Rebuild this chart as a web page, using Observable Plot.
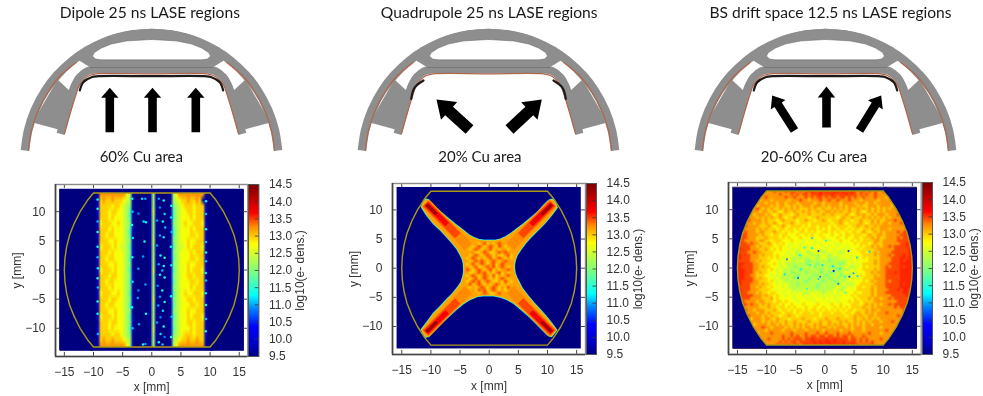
<!DOCTYPE html>
<html><head><meta charset="utf-8">
<style>html,body{margin:0;padding:0;background:#fff;width:983px;height:396px;overflow:hidden;position:relative}</style>
<script src="https://cdn.jsdelivr.net/npm/d3@7"></script>
<script src="https://cdn.jsdelivr.net/npm/@observablehq/plot@0.6"></script>
</head><body>
<script>
// ---------- shared value data ----------
const jetLevels = [9.5,9.9,10.4,10.9,11.3,12,12.8,13.3,13.7,14.5];
const jetColors = ["#00007f","#0000c8","#0000ff","#007fff","#00ffff","#7fff7f","#ffff00","#ff8c00","#ff0000","#7f0000"];
const axisTicks = [-15,-10,-5,0,5,10,15];
const barTicks = [9.5,10,10.5,11,11.5,12,12.5,13,13.5,14,14.5];
const codes = "0123456789abcdefghijk"; // 0 = 9.5 ... k = 14.5, 0.25 per step

const titles = ["Dipole 25 ns LASE regions","Quadrupole 25 ns LASE regions","BS drift space 12.5 ns LASE regions"];
const cuLabels = ["60% Cu area","20% Cu area","20-60% Cu area"];

// half chamber outline in mm (x,y), mirrored for the left side
const chamberHalf = [[10,13.2],[11,12],[12.3,10],[13.3,8],[14.1,6],[14.6,4],[14.9,2],[15,0],[14.9,-2],[14.6,-4],[14.1,-6],[13.3,-8],[12.3,-10],[11,-12],[10,-13.2]];

// Dipole: density by x (0.5 mm columns from -9.5 to 9.5) and y (1 mm rows)
const dipoleRows = [
"1fffffffffdb100000" + "1b1" + "00001bdfffffffff1",
"1efeefeeedcb100000" + "1b1" + "00001bcdeefeefe1",
"2eeeedeedcba100000" + "1b1" + "00001abcdeeedeee1",
"2eeedeeddcb9100000" + "1c1" + "000019bcddeedeee2",
"1eeededddcb9100000" + "1b1" + "000019bcdddedeee1",
"2deeeddedcba100000" + "1b1" + "00001abcdeddeeed2",
"1eeededddcb9200000" + "1b1" + "000029bcdddedeee1",
"2eedeedddcb9100000" + "1b1" + "000019bcdddeedee1",
"1eeeddeddcba100000" + "1c1" + "00001abcddeddeee2",
"2deeededccb9100000" + "1b1" + "000019bccdedeeed1",
"1eeededddcba200000" + "1b1" + "00002abcdddedeee1",
"2eedeedddcb9100000" + "1b1" + "000019bcdddeedee2",
"1eeeddeddcba100000" + "1b1" + "00001abcddeddeee1",
"2deeededdcb9100000" + "1c1" + "000019bcddedeeed2",
"1eeedeeddcba200000" + "1b1" + "00002abcddeedeee1",
"2eedeedddcb9100000" + "1b1" + "000019bcdddeedee1",
"1eeededddcba100000" + "1b1" + "00001abcdddedeee2",
"2deeeddedcb9100000" + "1b1" + "000019bcdeddeeed1",
"1eeedeeddcba200000" + "1c1" + "00002abcddeedeee2",
"2eedeedddcb9100000" + "1b1" + "000019bcdddeedee1",
"1eeeddeddcba100000" + "1b1" + "00001abcddeddeee1",
"2deeededdcb9100000" + "1b1" + "000019bcddedeeed2",
"1eeedeeddcba200000" + "1b1" + "00002abcddeedeee1",
"2eeededddcb9100000" + "1c1" + "000019bcdddedeee1",
"2eeeedeedcba100000" + "1b1" + "00001abcdeeedeee2",
"1efeefeeedcb100000" + "1b1" + "00001bcdeefeefee1",
"1fffffffffdb100000" + "1b1" + "00001bdfffffffff1"
];
const dipoleX = [-1.66,-1.1,-2.3,-1.4,-1,-1.25,-1.5,-2.3,-1.1,-2.3,-2.4,-1,-2.2,-1.5,-1.1,1.2,2.05,1.4,2.2,.9,1.9,2.3,1.4,2.05,.9,1.5,2.2,1.2,2.05,1.8,1.4,2.2,1,1.8,1.4,2.2,1.1,1.9,1.5,.9,2.05,1.5,2.2,1.2,1.85,-9.3,-9.3,-9.3,-9.3,-9.3,-9.3,-9.25,-9.3,-9.25,-9.3,-9.3,-9.25,9.3,9.3,9.3,9.3,9.3,9.3,9.25,9.3,9.25,9.3,9.3,9.25,-3.35,-3.3,-3.4,-3.25,-3.35,-3.3,-3.4,-3.3,3.35,3.3,3.4,3.25,3.35,3.3,3.4,3.3];
const dipoleY = [12.2,12.2,9.7,8.3,8.2,4.9,2.3,.2,-2.5,-3.5,-4.8,-7.5,-9.3,-12.8,-12.7,12.2,11.9,10.7,9.6,8.5,8.3,7.3,5.9,5.6,4.2,2.5,2.1,1,.7,-.1,-.8,-1.3,-2.7,-3.5,-4.6,-5.5,-6.1,-7,-8.1,-9,-9.7,-11,-11.5,-12.4,-12.8,12.1,10.5,8.3,6.5,4,2.2,.3,-1.4,-3,-5.4,-7.5,-11,11.8,9.6,7,4.8,3,1.5,-.5,-1.8,-4,-6,-8.4,-10.5,12.2,10,7.7,5.5,2.2,-2,-6.4,-10,11,9,6.5,4,.8,-4.5,-8,-11.5];
const dipoleV = [11.2,11,10.9,11.2,11.3,11.4,11,11,11,10.9,11,11.4,11,11.4,11,11,11.3,10.9,11.2,11,11.4,11.1,11,11.2,11,11.3,11.5,11,11.4,11.1,11.3,11.4,10.9,11.4,11,11.4,11,11.2,10.9,11,11.4,11.2,10.9,11.4,11.1,11.3,11.5,11.1,11.5,11.3,11.1,11.3,11.5,11.1,11.5,11.3,11.1,11.3,11.1,11.3,11.1,11.3,11.1,11.3,11.1,11.3,11.5,11.1,11.5,11.3,11.1,11.4,11.2,11.4,11.2,11.3,11.1,11.4,11.2,11.1,11.4,11.2,11.3,11.1,11.4];

// Quadrupole: outer edge of the density cross in mm, clockwise from the top
const crossEdge = [[0,4.75],[1,4.75],[1.9,4.95],[2.8,5.35],[3.6,5.85],[4.7,6.7],[5.9,7.6],[7,8.5],[8.2,9.5],[9.1,10.5],[9.9,11.35],[10.4,11.7],[10.9,11.8],[11.3,11.2],[11.65,10.4],[10.6,9],[9.4,7.6],[8.2,6.4],[7.1,5.3],[6.2,4.3],[5.4,3.2],[4.8,2.3],[4.45,1.4],[4.3,.6],[4.3,0],[4.4,-.8],[4.7,-1.6],[5.1,-2.4],[5.6,-3.4],[6.6,-4.7],[7.6,-5.9],[8.8,-7.2],[9.95,-8.5],[10.8,-9.6],[11.55,-10.6],[11,-11.3],[10.7,-11.7],[10.1,-11.5],[9.2,-10.6],[8.2,-9.6],[6.8,-8.2],[5.4,-7],[4.2,-6],[3.1,-5.35],[2,-4.95],[.8,-4.7],[-.6,-4.65],[-2,-4.8],[-3.4,-5.4],[-4.5,-6.1],[-5.6,-7],[-7,-8.3],[-8.3,-9.5],[-9.2,-10.4],[-10.1,-11.4],[-10.5,-11.7],[-10.9,-11.8],[-11.3,-11.2],[-11.6,-10.5],[-10.6,-9.2],[-9.6,-7.8],[-8.4,-6.6],[-7.3,-5.4],[-6.3,-4.4],[-5.4,-3.3],[-4.8,-2.4],[-4.5,-1.5],[-4.35,-.7],[-4.35,0],[-4.4,.8],[-4.6,1.6],[-5,2.4],[-5.5,3.3],[-6.3,4.3],[-7.3,5.4],[-8.4,6.6],[-9.6,7.7],[-10.7,9.1],[-11.6,10.5],[-11.3,11.2],[-10.9,11.8],[-10.4,11.7],[-10.1,11.35],[-9.2,10.4],[-8.2,9.5],[-7,8.5],[-5.8,7.5],[-4.6,6.6],[-3.5,5.7],[-2.7,5.25],[-1.8,4.9],[-.9,4.75]];
// arm ridges: [x1,y1,x2,y2] in mm
const armRidgeLow = [[3.6,3.7,10.9,11.2],[3.6,-3.7,10.9,-11.2],[-3.6,3.7,-10.9,11.2],[-3.6,-3.7,-10.9,-11.2]];
const armRidgeMid = [[5.4,5.6,10.9,11.1],[5.4,-5.6,10.9,-11.1],[-5.4,5.6,-10.9,11.1],[-5.4,-5.6,-10.9,-11.1]];
const armRidgeHot = [[7.2,7.5,10.8,11],[7.2,-7.5,10.8,-11],[-7.2,7.5,-10.8,11],[-7.2,-7.5,-10.8,-11]];
const armRidgeTop = [[9,9.2,10.7,10.9],[9,-9.2,10.7,-10.9],[-9,9.2,-10.7,10.9],[-9,-9.2,-10.7,-10.9]];
const crossFill = 13.2;
const crossEdgeLow = 11.1, crossEdgeMid = 12.1;
const ridgeLow = 13.3, ridgeMid = 13.5, ridgeHot = 13.75, ridgeTop = 14.3;
// Quadrupole centre: 0.5 mm cells from -5 to 5, "." where there is no cell
const crossCentreRows = [
"....................",
"......efgefefg......",
"....efgfefgfegfe....",
"...efgfeffgefeffe...",
"...ffeefgfeefgfgf...",
"..fefgfefgfefeefge..",
"..efgfefefgefgfefe..",
"..fefgfgfefgfefgf...",
"..efgefgfefgefgff...",
"..fefgeefgfgefgfe...",
"..gfefgfefgefeffg...",
"..feefgfgefefgefe...",
"..efgfefgfegefefg...",
"..fefgefgfefefgfe...",
"..efgfgefgfeefegfe..",
"...gefgfefefgfefe...",
"...efefgfefgfefeg...",
"....fegfgefgfefe....",
"......efgfeefg......",
"...................."
];

// Drift space: 0.5 mm cells, x from -15.8 to 15.8 and y from 13.9 to -13.9
const driftRows = [
"ffffffffffffffffgfgfgfggfgghghgghhghghhghgggfggfggfffgffffffffff",
"ffffffffffffffgfffgfggfgfgghgghghgghhghgghgfggfgfgffgfffffffffff",
"ffffffffffffffffgfffgfgfggfggghggghgggghgggfgfgffgfffffffffffgff",
"fffffffffffgffffffgffgfffgfgfggfgfggfggfgfgffgfffgfffefffffffff",
"fffffffffefffefffffefffgffefffgffgffgfffgfffefffffefffffffeffff",
"fffffffffffefffeffefffefffffeffefffffeffffefffeffefffffefffffff",
"ffffffffeffffefeffeefefefffefffefefffefefffefeefffeffffeffffffff",
"ffffffffgfefefeefefefefeeefefeefeefefefefeefefefefefefeffgffffff",
"gffffffffeffeefedefeefeefefeefeeffefefeefeefedefefefefffffffffg",
"gfgffffefffefedefeeedefeeefeeeefeefeeeefedefefeefefffefffgffffgg",
"ggffffffefefefeefedeefeeeedeefeeeeeedefeefeeefefefefefefffffgfgg",
"gggffgffffefeeedefeeeedeefeedeefedeeefeeedeefeeefefeefffgffffggg",
"gggffffeffefeefedeeefedeeedeeeeeeedeefedeeeefedefefeffefffgfgggg",
"gggfgffffeeefedeefedeeeededeedeeededeeeedeefeefeefefffffffffgggg",
"ggggffffefefeeedeedeedededeeedededeedeededeedeeefeefffefffffgggg",
"gggfgfffeffeeefeedededdeedededdeedededdedeedefedefefeffffgfggggg",
"hggggffffefeedeedeedddeddededdedddeddedeedeeedefeeffefffffgggggg",
"gggggfffeeefeeeedededddedddedddeddddeddeddeedeeefefeeffffgfggggh",
"hgggffffeffeedeeedddedddcdddcddddcdddedddededeeeeffefffffggggghg",
"gggggfgffeeefedededdcddcddddcdcddddcdcddddedeeedefeeffffffgghggg",
"hhggggffefeeeeddeddcdddcdcdcdddcdcddcddcddddedeefefeffgfgggghghh",
"gghgggfffeefedededddcdcddcddcdcdcddcddcdcddedeeeeeffffffggggghgh",
"hhgggffgffeeeedddddcdcbcdcbcddcbcdcdcbcdddddeedeefeffffgggggghhh",
"hghgggfffefeeededdcdcdcbcdcbcbcdcbcdcdcddcdddeeeefefffgfggghghgh",
"hhhgggfffeeedededcddcbcbcbcdcbcdcbcbcdcdcddcdedeeeeffffggghhghhh",
"hhggggffefeeedddcdcdcbcdcbabcbcbcabcbcbcdcdddddeefeffffggghghhhh",
"hhhhgggffeeeddedcdcbcbcbcabcbabcbcbcbabcdcdcdeeeefefffgggghhhhhh",
"hhhggggffefeedddccdbcabcbcbcabcbcbabcbcdcbcddedeeeeffgfggghghhhh",
"ihhhgggffeeededcdcbcbcbabcbcbcabcbcbabcbcdcddeeeefeffggggghhhhih",
"hhhhgggfefeedddcdcbcabcbcabcbcabcbabcbcdcdcdddeefefffggghghhhhih",
"ihhhggffeeeddcdcdbcbcbabcbcbabcbabcbcabcbcddedeeefeffggggghhhhih",
"hhhhgggfefeeddcdcbcbcabcbcabcbcbcabcbcbcdcdcdeeeeffffggggghhhhhh",
"hhhggggffeeededcdcbcbcbcbabcbcbabcbabcbcdcdddedefefffgfggghhhhhh",
"hhhgggfffefeeddcdcdcbcabcbcbcabcbcbcbcdcbcddeeeeeffffggggghghhhh",
"hhggggffefeededddcdcbcbcbcbcbabcbcbcdcbcdcdeedeefefffggggghhhhgh",
"hghgggfffeeeeddcddcdcbcbcdcbcbcbcbcdcbcddddeeeeefeffffggghghhghh",
"hhgggfffefeedeeddcddcdcdcbcdcdcbcdcdcddcddeddeeefefffgggggghhgh",
"gghggggfffefeededdcddcddcdcddcdcdcdcdcdddedeeeeefefffffggggghghg",
"hgggggffffeeefdedddddcdddcdcdddcdddcddddddedeeefeffeffgfgggggghg",
"ggggffffeffeeedeededddcdddddcddddcddcdddedeedeeeeffffffffggggggg",
"gggggfgffefefeeededdedddeddddeddddeddedddeeedefefefeffgfggggggg",
"ggggfffffeeefeedeedededddeddeddedddedededeeeefeefeffffffgfggggg",
"gggfgffefffeeefedeededeededeededededededeedeeefeffeffffffffgggg",
"gggfffffeffefeeeedeeededeeedeedeeedeeedeedefeefefefffgfffffgggg",
"gggffgffffefefeedeefeedeeeeeeedeeeeeeeedeefefeeffefffffffgfgggg",
"ggffffefffeffeefeeedeeeefeeedeeefeeefeeeeefeefefefefffffffffgfg",
"gfffgfffffefefefeefeefeeeefeeefeefeeefefeefefefefffefffgffffffg",
"gffffffeffffeffefefeefefefeefefeefefefeefefefeffeffffffffffgffg",
"ffffffffffgffeffffefefefeffefefffefefffefefffefffffefffffffffff",
"fffffffffffefffffefffefffefffffefffffefffefffefffffffgfffffffff",
"ffffffffeffffgffffffgffffgfffgffgfffgfffgffffffgfffeffffffffff",
"fffffffffffffffffgffgfgffgfggfggfggfgfggfgfffgffffffffffffffff",
"ffffffffffffgffffgfgfgggfgghgggghgghggggfggfgfgffffgffffffffff",
"ffffffffffffffffgfgfggfggggghghghhghgghggggfgfgfgfffffffffffffff",
"fffffffffffffffgfgfgfggfghgghghhghhghghgghggfgfggfffffffffffffff",
"ffffffffffffffffffgfgfggfggghgghghhgghgggfgfggfgffffffffffffffff"
];
const driftPeak = 13.6;
const driftX = [-2.2,.17,-3.5,-2.2,-1.1,-4.3,4.05,5.5,7.65,-6.5,-2.5,-.4,1.4,1.5,2.6,-4.1,-6.9,-4.6,-.8,-1.1,3.5,4.2,4.9,5.6,2.3,-3.1,3.5];
const driftY = [5.1,4.7,3.5,3.4,2.9,2.2,2.9,1.8,2.8,1.5,.5,.5,.3,-.5,-.1,-.2,-1.1,-1.7,-1.5,-1.9,-1.5,-1.5,-.9,-1.4,-2.7,-3.6,-4.2];
const driftV = [11.2,11.3,11.4,11.4,10.6,11.4,10.6,11.2,11.2,10.9,11.4,11.2,11.2,10.5,11.4,11.4,11.2,10.9,10.9,11.2,11.4,10.7,11,11.2,10.9,11.4,11.6];

// Beam screen drawing, in drawing units from its centre line
const ringHalf = [[-126.5,150],[-123.4,130],[-116.8,110],[-106.2,90],[-94.7,75],[-78.9,60],[-64.3,50],[-48.2,42],[-33.5,37],[-19.4,34],[0,32.5]];
const ringCopperHalf = [[-123.1,150],[-120,130],[-113.2,110],[-102.5,90],[-90.9,75],[-75.3,62]];
const bridgeHalf = [[0,28.3],[-20,29.8],[-40,34.6],[-68,47.3],[-74,59],[-61,67],[0,67]];
const windowHalf = [[0,39],[-25,40.5],[-40,43.5],[-50,47.5],[-57,52],[-59,55.5],[-56,58.5],[-50,59.3],[0,59.3]];
const screenHalf = [[-91,133.3],[-85,112],[-79.5,93],[-76.7,85],[-72,77],[-64,70.7],[-55.7,69],[0,69]];
const screenCopperHalf = [[-87,133.3],[-81,112],[-75.8,95],[-72.7,86],[-68,79.5],[-62,75],[-55,73.3],[0,73.3]];
const blackHalfFull = [[-71.7,90],[-68.3,81.7],[-60,76.7],[-53.3,75.7],[0,75.7]];
const blackHalfCorner = [[-77.3,98.3],[-74,87.3],[-65,80]];
const sideBlockHalf = [[-94,79],[-119,122],[-93,129],[-80,92]];
// arrows: tail x, tail y, tip x, tip y
const arrowsDipole = [[-41.7,131.7,-41.7,87.3],[1,131.7,1,87.3],[44.3,131.7,44.3,87.3]];
const arrowsQuad = [[-19,129,-52,99],[21,129,53.3,99]];
const arrowsDrift = [[-31,130,-53.3,95],[1,127,1,86],[34,130,55.7,95]];

// ---------- panel layout in page pixels (frame left, right, top, bottom, x zero, y zero) ----------
const frames = [[55,247.3,184,356,151.3,269.5],[392,585,183.3,354.3,488.7,268],[728.3,921,182,354,824.7,267.5]];
const bars = [[248.3,258.7],[585.7,595.7],[922,932]];
const drawingCentres = [150.7,488.3,825];
const titleCentres = [149,489,830];
const cuCentres = [140.5,479.7,813.5];
const arrowWidths = [[4.3,8.7,10],[5.8,12,17],[4.3,8.7,11]];

const TEXT = "#333";
const OLIVE = "#ad9a12";
const NAVY = 9.5;
const K = 5.83;

const colorOpt = {type:"linear",domain:jetLevels,range:jetColors,clamp:true,interpolate:"rgb"};
const decode = (rows,cols,peak=14.5) => rows.flatMap(r => Array.from(r.padEnd(cols,r[r.length-1]).slice(0,cols), c => c === "." ? NaN : Math.min(peak,9.5 + codes.indexOf(c)*0.25)));
const mirrorX = half => half.concat(half.slice(0,-1).reverse().map(([x,y])=>[-x,y]));
const poly = (pts,id,v) => pts.map(([x,y])=>({x,y,id,v}));
const chamber = chamberHalf.map(([x,y])=>({x,y})).concat(chamberHalf.map(([x,y])=>({x:-x,y})).reverse(),[{x:chamberHalf[0][0],y:chamberHalf[0][1]}]);
const masks = [
  ...poly(chamberHalf.concat([[10,-13.85],[15.8,-13.85],[15.8,13.85],[10,13.85]]),"r",NAVY),
  ...poly(chamberHalf.map(([x,y])=>[-x,y]).concat([[-10,-13.85],[-15.8,-13.85],[-15.8,13.85],[-10,13.85]]),"l",NAVY),
  ...poly([[-10.5,13.2],[10.5,13.2],[10.5,13.85],[-10.5,13.85]],"t",NAVY),
  ...poly([[-10.5,-13.2],[10.5,-13.2],[10.5,-13.85],[-10.5,-13.85]],"b",NAVY)
];
const polyMark = (data,channels={}) => Plot.line(data,{x:"x",y:"y",z:"id",fill:"v",stroke:"none",...channels});
const specks = (xs,ys,vs,r=1.25) => Plot.dot(xs.map((x,i)=>({x,y:ys[i],v:vs[i]})),{x:"x",y:"y",fill:"v",r,stroke:"none"});
const ridge = (arr,v,w) => Plot.link(arr,{x1:d=>d[0],y1:d=>d[1],x2:d=>d[2],y2:d=>d[3],stroke:()=>v,strokeWidth:w,strokeLinecap:"butt"});
const cross = crossEdge.concat([crossEdge[0]]);

const panelLayers = [
  [ Plot.raster(decode(dipoleRows,38),{width:38,height:27,x1:-9.5,x2:9.5,y1:13.5,y2:-13.5,fill:d=>d}),
    specks(dipoleX,dipoleY,dipoleV) ],
  [ polyMark(poly(cross,"c",crossEdgeLow),{stroke:()=>crossEdgeLow,strokeWidth:1.8}),
    polyMark(poly(cross,"c",crossEdgeMid),{stroke:()=>crossEdgeMid,strokeWidth:0.9}),
    polyMark(poly(cross,"c",crossFill),{stroke:"none"}),
    ridge(armRidgeLow,ridgeLow,10), ridge(armRidgeMid,ridgeMid,7.5), ridge(armRidgeHot,ridgeHot,5), ridge(armRidgeTop,ridgeTop,3),
    Plot.raster(decode(crossCentreRows,20),{width:20,height:20,x1:-5,x2:5,y1:5,y2:-5,fill:d=>d}) ],
  [ Plot.raster(decode(driftRows,64,driftPeak),{width:64,height:56,x1:-15.8,x2:15.8,y1:13.9,y2:-13.9,fill:d=>d}),
    specks(driftX,driftY,driftV,1.05) ]
];

const baseStyle = {position:"absolute",background:"transparent",overflow:"visible",fontFamily:"'Liberation Sans'",fontSize:"12px"};

function heatPanel(i){
  const [fl,fr,ft,fb,x0,y0] = frames[i];
  const ml = 55, mb = 40, mt = 4, mr = 2;
  return Plot.plot({
    width: fr-fl+ml+mr, height: fb-ft+mt+mb, marginLeft: ml, marginRight: mr, marginTop: mt, marginBottom: mb,
    style: {...baseStyle,left:(fl-ml)+"px",top:(ft-mt)+"px",filter:"blur(0.45px)"},
    x: {domain:[(fl-x0)/K,(fr-x0)/K]},
    y: {domain:[(y0-fb)/K,(y0-ft)/K]},
    color: colorOpt,
    marks: [
      Plot.rect([0],{x1:()=>-15.8,x2:()=>15.8,y1:()=>-13.85,y2:()=>13.85,fill:()=>NAVY}),
      ...panelLayers[i],
      ...(i===1 ? [] : [polyMark(masks)]),
      Plot.line(chamber,{x:"x",y:"y",stroke:OLIVE,strokeWidth:1.4}),
      Plot.ruleX(axisTicks,{y1:()=>(y0-fb)/K,y2:()=>(y0-fb)/K+0.7,stroke:"#444",strokeWidth:1}),
      Plot.ruleX(axisTicks,{y1:()=>(y0-ft)/K,y2:()=>(y0-ft)/K-0.7,stroke:"#444",strokeWidth:1}),
      Plot.ruleY(axisTicks.slice(1,-1),{x1:()=>(fl-x0)/K,x2:()=>(fl-x0)/K+0.7,stroke:"#444",strokeWidth:1}),
      Plot.ruleY(axisTicks.slice(1,-1),{x1:()=>(fr-x0)/K,x2:()=>(fr-x0)/K-0.7,stroke:"#444",strokeWidth:1}),
      Plot.frame({stroke:"#8a8a8a",strokeWidth:1.4}),
      Plot.ruleX([0],{x:()=>(fl-x0)/K,stroke:"#444",strokeWidth:1.6}),
      Plot.ruleY([0],{y:()=>(y0-fb)/K,stroke:"#444",strokeWidth:1.6}),
      Plot.axisX(axisTicks,{tickSize:0,tickPadding:11,fontSize:12,fill:TEXT,label:"x [mm]",labelAnchor:"center",labelArrow:"none",labelOffset:35}),
      Plot.axisY(axisTicks.slice(1,-1),{tickSize:0,tickPadding:10,fontSize:12,fill:TEXT,label:"y [mm]",labelAnchor:"center",labelArrow:"none",labelOffset:43})
    ]
  });
}

function colorBar(i){
  const [bl,br] = bars[i];
  const [,,ft,fb] = frames[i];
  const mr = 52, mt = 6, mb = 6, ml = 1;
  const levels = d3.range(100).map(k => 14.5 - k*0.05);
  return Plot.plot({
    width: br-bl+ml+mr, height: fb-ft+mt+mb, marginLeft: ml, marginRight: mr, marginTop: mt, marginBottom: mb,
    style: {...baseStyle,left:(bl-ml)+"px",top:(ft-mt)+"px",filter:"blur(0.45px)"},
    x: {domain:[0,1],axis:null},
    y: {domain:[9.5,14.5],axis:null},
    color: colorOpt,
    marks: [
      Plot.raster(levels,{width:1,height:100,x1:0,x2:1,y1:14.5,y2:9.5,fill:d=>d}),
      Plot.ruleY(barTicks,{x1:()=>.65,x2:()=>1,stroke:"#333",strokeWidth:.8}),
      Plot.frame({stroke:"#555",strokeWidth:1}),
      Plot.axisY(barTicks,{anchor:"right",tickSize:0,tickPadding:10,fontSize:12,fill:TEXT,tickFormat:d=>d.toFixed(1),label:"log10(e- dens.)",labelAnchor:"center",labelArrow:"none",labelOffset:45})
    ]
  });
}

const arrowPolygon = ([tx,ty,hx,hy],id,[sw,hw,hl]) => {
  const L = Math.hypot(hx-tx,hy-ty), ux=(hx-tx)/L, uy=(hy-ty)/L, nx=-uy, ny=ux;
  const bx=hx-ux*hl, by=hy-uy*hl;
  return [[tx+nx*sw,ty+ny*sw],[bx+nx*sw,by+ny*sw],[bx+nx*hw,by+ny*hw],[hx,hy],[bx-nx*hw,by-ny*hw],[bx-nx*sw,by-ny*sw],[tx-nx*sw,ty-ny*sw]].map(([x,y])=>({x,y,id}));
};
const linePts = pts => pts.map(([x,y])=>({x,y}));

function drawing(i){
  const GREY = "#8e8e8e", COPPER = "#b2664c", SEAM = "#6a6a6a";
  const arrows = [arrowsDipole,arrowsQuad,arrowsDrift][i].flatMap((a,k)=>arrowPolygon(a,k,arrowWidths[i]));
  const sideR = sideBlockHalf.map(([x,y])=>[-x,y]);
  const ringPts = linePts(mirrorX(ringHalf));
  const screenPts = linePts(mirrorX(screenHalf));
  const blackParts = i===1
    ? [blackHalfCorner, blackHalfCorner.map(([x,y])=>[-x,y])]
    : [mirrorX(blackHalfFull)];
  const cx = drawingCentres[i];
  return Plot.plot({
    width:330,height:175,margin:0,
    style:{...baseStyle,left:(cx-165)+"px",top:"0px",filter:"blur(0.35px)"},
    x:{domain:[-165,165],axis:null}, y:{domain:[175,0],axis:null},
    marks:[
      Plot.line(poly(sideBlockHalf,"a").concat(poly(sideR,"b")),{x:"x",y:"y",z:"id",fill:GREY,stroke:"none"}),
      Plot.line(ringPts,{x:"x",y:"y",stroke:GREY,strokeWidth:8.6,curve:"catmull-rom",strokeLinecap:"butt"}),
      Plot.line(linePts(ringCopperHalf),{x:"x",y:"y",stroke:COPPER,strokeWidth:1.2,curve:"catmull-rom"}),
      Plot.line(linePts(ringCopperHalf.map(([x,y])=>[-x,y])),{x:"x",y:"y",stroke:COPPER,strokeWidth:1.2,curve:"catmull-rom"}),
      Plot.line(linePts(mirrorX(bridgeHalf)),{x:"x",y:"y",fill:GREY,stroke:"none"}),
      Plot.line(linePts(mirrorX(windowHalf)),{x:"x",y:"y",fill:"#fff",stroke:SEAM,strokeWidth:.5}),
      Plot.line(screenPts,{x:"x",y:"y",stroke:GREY,strokeWidth:8,strokeLinecap:"butt",curve:"catmull-rom"}),
      Plot.line(linePts(mirrorX(bridgeHalf).slice(5,8)),{x:"x",y:"y",stroke:SEAM,strokeWidth:.6}),
      Plot.line(linePts(mirrorX(screenCopperHalf)),{x:"x",y:"y",stroke:COPPER,strokeWidth:1.2,curve:"catmull-rom"}),
      ...blackParts.map(p=>Plot.line(linePts(p),{x:"x",y:"y",stroke:"#1c1a18",strokeWidth:2.2,curve:"catmull-rom"})),
      Plot.line(arrows,{x:"x",y:"y",z:"id",fill:"#000",stroke:"none"}),
      Plot.text([titles[i]],{x:()=>titleCentres[i]-cx,y:()=>12,text:d=>d,fontFamily:"Lato",fontSize:15.6,fill:"#1a1a1a"}),
      Plot.text([cuLabels[i]],{x:()=>cuCentres[i]-cx,y:()=>157,text:d=>d,fontFamily:"Lato",fontSize:15,fill:"#1a1a1a"})
    ]
  });
}

for (let i=0;i<3;i++){
  document.body.append(drawing(i));
  document.body.append(heatPanel(i));
  document.body.append(colorBar(i));
}
</script>
</body></html>
